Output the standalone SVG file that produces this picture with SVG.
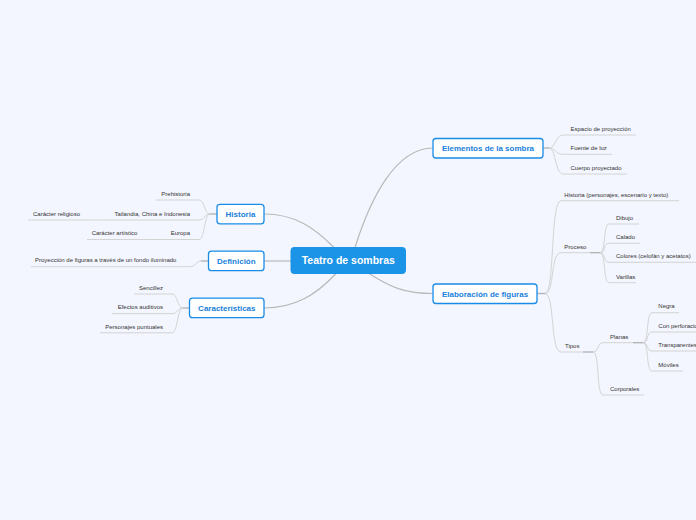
<svg xmlns="http://www.w3.org/2000/svg" width="696" height="520" viewBox="0 0 696 520">
<style>
.bg{fill:#f3f6fe}
.main rect{fill:#ffffff;stroke:#1a8ce8;stroke-width:1.3}
.main text{font-family:"Liberation Sans",Arial,sans-serif;font-size:8px;font-weight:bold;fill:#1a7fdc;text-anchor:middle}
.root rect{fill:#1b93e7;stroke:#1b93e7}
.root text{font-family:"Liberation Sans",Arial,sans-serif;font-size:10.5px;font-weight:bold;fill:#ffffff;text-anchor:middle}
.leaf{font-family:"Liberation Sans",Arial,sans-serif;font-size:6px;fill:#333333}
.end{text-anchor:end}
.conn path,.conn line{fill:none}
.c1{stroke:#b9b9b9;stroke-width:1.2}
.c2{stroke:#cfcfcf;stroke-width:0.9}
.c3{stroke:#b0b0b0;stroke-width:1.3}
</style>
<rect class="bg" x="0" y="0" width="696" height="520"/>

<g id="connectors" class="conn">
  <!-- root to main -->
  <path class="c1" d="M355,247.5 C370,200 395,148 433,148"/>
  <path class="c1" d="M369,273.5 C390,287 405,293.5 433,293.5"/>
  <path class="c1" d="M334,247.5 C315,228 295,214 264,214"/>
  <line class="c1" x1="291" y1="261" x2="264" y2="261"/>
  <path class="c1" d="M336,273.5 C316,295 295,308 264,308"/>

  <!-- Elementos -->
  <line class="c3" x1="543" y1="148" x2="549" y2="148"/>
  <path class="c2" d="M549,148 C556,148 555,135 563,135 L636,135"/>
  <path class="c2" d="M549,148 C556,148 555,154.3 563,154.3 L612,154.3"/>
  <path class="c2" d="M549,148 C556,148 555,174 563,174 L627,174"/>

  <!-- Elaboración -->
  <line class="c3" x1="537" y1="293.5" x2="545" y2="293.5"/>
  <path class="c2" d="M545,293.5 C555,293.5 550,200.7 561,200.7 L679,200.7"/>
  <path class="c2" d="M545,293.5 C555,293.5 550,252.7 561,252.7 L590,252.7"/>
  <path class="c2" d="M545,293.5 C555,293.5 550,352 561,352 L583,352"/>
  <line class="c3" x1="590" y1="252.7" x2="600" y2="252.7"/>
  <line class="c3" x1="583" y1="352" x2="593" y2="352"/>

  <!-- Proceso children -->
  <path class="c2" d="M600,252.7 C606,252.7 603,224 609,224 L639,224"/>
  <path class="c2" d="M600,252.7 C606,252.7 603,243.3 609,243.3 L640,243.3"/>
  <path class="c2" d="M600,252.7 C606,252.7 603,262.3 609,262.3 L696,262.3"/>
  <path class="c2" d="M600,252.7 C606,252.7 603,282.7 609,282.7 L636,282.7"/>

  <!-- Tipos children -->
  <path class="c2" d="M593,352 C599,352 597,342.7 603,342.7 L633,342.7"/>
  <path class="c2" d="M593,352 C600,352 596,395 603,395 L644,395"/>
  <line class="c3" x1="633" y1="342.7" x2="643" y2="342.7"/>

  <!-- Planas children -->
  <path class="c2" d="M643,342.7 C649,342.7 646,312.7 652,312.7 L679,312.7"/>
  <path class="c2" d="M643,342.7 C649,342.7 646,332 652,332 L700,332"/>
  <path class="c2" d="M643,342.7 C649,342.7 646,351 652,351 L700,351"/>
  <path class="c2" d="M643,342.7 C649,342.7 646,371 652,371 L683,371"/>

  <!-- Historia -->
  <line class="c3" x1="217" y1="214" x2="210" y2="214"/>
  <path class="c2" d="M210,214 C204,214 205,200 199,200 L156,200"/>
  <path class="c2" d="M210,214 C204,214 205,220 199,220 L105,220"/>
  <path class="c2" d="M210,214 C204,214 205,239.5 199,239.5 L165,239.5"/>
  <path class="c2" d="M105,220 C100,220 90,220 85,220 L28,220"/>
  <path class="c2" d="M165,239.5 C160,239.5 150,239.5 145,239.5 L87,239.5"/>

  <!-- Definición -->
  <line class="c3" x1="208" y1="261" x2="201" y2="261"/>
  <path class="c2" d="M201,261 C196,261 196,266.7 190,266.7 L31,266.7"/>

  <!-- Características -->
  <line class="c3" x1="189" y1="308" x2="183" y2="308"/>
  <path class="c2" d="M183,308 C177,308 178,294 172,294 L134,294"/>
  <path class="c2" d="M183,308 C177,308 178,313.6 172,313.6 L112,313.6"/>
  <path class="c2" d="M183,308 C177,308 178,332.8 172,332.8 L100,332.8"/>
</g>

<g id="root" class="root">
  <rect x="291" y="247.5" width="114.5" height="26" rx="3"/>
  <text x="348.3" y="264.2">Teatro de sombras</text>
</g>

<g id="elementos" class="main">
  <rect x="433" y="138.5" width="110" height="19.5" rx="3"/>
  <text x="488" y="151.3">Elementos de la sombra</text>
</g>
<g id="elaboracion" class="main">
  <rect x="433" y="284" width="104" height="19.5" rx="3"/>
  <text x="485" y="296.8">Elaboración de figuras</text>
</g>
<g id="historia" class="main">
  <rect x="217" y="204.3" width="47" height="19.5" rx="3"/>
  <text x="240.5" y="217">Historia</text>
</g>
<g id="definicion" class="main">
  <rect x="208.5" y="251.2" width="55.5" height="19.5" rx="3"/>
  <text x="236.3" y="264">Definición</text>
</g>
<g id="caracteristicas" class="main">
  <rect x="189.5" y="298.2" width="74.5" height="19.5" rx="3"/>
  <text x="226.8" y="311">Características</text>
</g>

<g id="leaf-espacio"><text class="leaf" x="570.5" y="130.8">Espacio de proyección</text></g>
<g id="leaf-fuente"><text class="leaf" x="570.5" y="150.2">Fuente de luz</text></g>
<g id="leaf-cuerpo"><text class="leaf" x="570.5" y="169.8">Cuerpo proyectado</text></g>

<g id="leaf-historia-p"><text class="leaf" x="564.3" y="196.5">Historia (personajes, escenario y texto)</text></g>
<g id="leaf-proceso"><text class="leaf" x="564.3" y="248.5">Proceso</text></g>
<g id="leaf-dibujo"><text class="leaf" x="616" y="219.7">Dibujo</text></g>
<g id="leaf-calado"><text class="leaf" x="616" y="239.2">Calado</text></g>
<g id="leaf-colores"><text class="leaf" x="616" y="258">Colores (celofán y acetatos)</text></g>
<g id="leaf-varillas"><text class="leaf" x="616" y="278.5">Varillas</text></g>
<g id="leaf-tipos"><text class="leaf" x="565" y="347.7">Tipos</text></g>
<g id="leaf-planas"><text class="leaf" x="610" y="338.5">Planas</text></g>
<g id="leaf-corporales"><text class="leaf" x="610" y="390.7">Corporales</text></g>
<g id="leaf-negra"><text class="leaf" x="658.3" y="308">Negra</text></g>
<g id="leaf-perforaciones"><text class="leaf" x="658.3" y="327.8">Con perforaciones</text></g>
<g id="leaf-transparentes"><text class="leaf" x="658.3" y="346.8">Transparentes</text></g>
<g id="leaf-moviles"><text class="leaf" x="658.3" y="366.8">Móviles</text></g>

<g id="leaf-prehistoria"><text class="leaf end" x="190" y="195.8">Prehistoria</text></g>
<g id="leaf-tailandia"><text class="leaf end" x="190" y="215.8">Tailandia, China e Indonesia</text></g>
<g id="leaf-religioso"><text class="leaf" x="33" y="215.8">Carácter religioso</text></g>
<g id="leaf-europa"><text class="leaf end" x="190" y="235.2">Europa</text></g>
<g id="leaf-artistico"><text class="leaf" x="91.7" y="235.2">Carácter artístico</text></g>

<g id="leaf-proyeccion"><text class="leaf" x="35" y="262.4">Proyección de figuras a través de un fondo iluminado</text></g>

<g id="leaf-sencillez"><text class="leaf end" x="163" y="289.6">Sencillez</text></g>
<g id="leaf-efectos"><text class="leaf end" x="163" y="309.4">Efectos auditivos</text></g>
<g id="leaf-personajes"><text class="leaf end" x="163" y="328.6">Personajes puntuales</text></g>
</svg>
